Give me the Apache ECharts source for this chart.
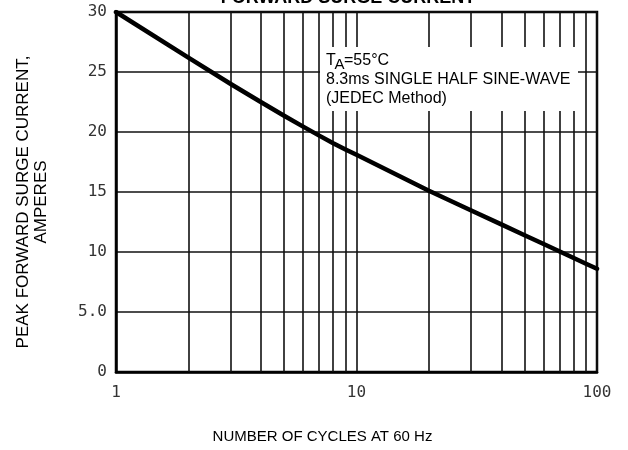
<!DOCTYPE html>
<html>
<head>
<meta charset="utf-8">
<script src="https://cdn.jsdelivr.net/npm/echarts@6/dist/echarts.min.js"></script>
<style>
html,body{margin:0;padding:0;background:#fff;}
#chart{width:628px;height:450px;}
</style>
</head>
<body>
<div id="chart"></div>
<script>
// Data
var cycles = [1, 2, 3, 4, 5, 6, 7, 8, 9, 10, 20, 30, 40, 50, 60, 70, 80, 90, 100];
var current = [30, 26.2, 24.0, 22.5, 21.35, 20.45, 19.7, 19.07, 18.55, 18.1, 15.1, 13.46, 12.3, 11.4, 10.66, 10.04, 9.5, 9.02, 8.6];
var minorGridX = [2, 3, 4, 5, 6, 7, 8, 9, 20, 30, 40, 50, 60, 70, 80, 90];
var yTicks = [0, 5, 10, 15, 20, 25, 30];
var yTickLabels = ['0', '5.0', '10', '15', '20', '25', '30'];
var titleText = 'FORWARD SURGE CURRENT';
var xName = 'NUMBER OF CYCLES AT 60 Hz';
var yNameLines = ['PEAK FORWARD SURGE CURRENT,', 'AMPERES'];
var noteLines = ['=55\u00B0C', '8.3ms SINGLE HALF SINE-WAVE', '(JEDEC Method)'];

var chart = echarts.init(document.getElementById('chart'), null, {renderer: 'canvas'});
var gridLine = {color: '#111', width: 1.6};
var tickFont = {fontFamily: 'DejaVu Sans Mono', fontSize: 16, color: '#333'};
var sans = '"Liberation Sans", Arial, sans-serif';

var option = {
  animation: false,
  backgroundColor: '#fff',
  grid: {left: 116, right: 31, top: 12, bottom: 78, show: true, borderColor: '#000', borderWidth: 2.5, backgroundColor: 'transparent'},
  xAxis: {
    type: 'log', logBase: 10, min: 1, max: 100,
    axisLine: {show: true, lineStyle: {color: '#000', width: 2.5}},
    axisTick: {show: false},
    splitLine: {show: true, lineStyle: gridLine},
    axisLabel: {show: true, margin: 13, fontFamily: tickFont.fontFamily, fontSize: tickFont.fontSize, color: tickFont.color,
      formatter: function (v) { return String(Math.round(v)); }},
    name: xName, nameLocation: 'middle', nameGap: 57,
    nameTextStyle: {fontFamily: 'Liberation Sans', fontSize: 15, color: '#000', padding: [0, 68, 0, 0]}
  },
  yAxis: {
    type: 'value', min: 0, max: 30, interval: 5,
    axisLine: {show: true, lineStyle: {color: '#000', width: 2.5}},
    axisTick: {show: false},
    splitLine: {show: true, lineStyle: gridLine},
    axisLabel: {show: true, margin: 9, fontFamily: tickFont.fontFamily, fontSize: tickFont.fontSize, color: tickFont.color,
      padding: [4, 0, 0, 0],
      formatter: function (v) { var i = yTicks.indexOf(v); return i >= 0 ? yTickLabels[i] : ''; }}
  },
  series: [{
    type: 'line',
    data: cycles.map(function (c, i) { return [c, current[i]]; }),
    showSymbol: false, smooth: false,
    lineStyle: {color: '#000', width: 4.5, cap: 'round', join: 'round'},
    z: 5,
    markLine: {
      silent: true, symbol: ['none', 'none'], label: {show: false},
      lineStyle: {color: '#111', width: 1.6, type: 'solid'},
      data: minorGridX.map(function (v) { return {xAxis: v}; }),
      z: 1
    }
  }],
  graphic: [
    {type: 'text', z: 200,
      style: {text: titleText, x: 348, y: -1.5, align: 'center', verticalAlign: 'middle', font: 'bold 18px ' + sans, fill: '#000'}},
    {type: 'group', z: 100, children: [
      {type: 'rect', shape: {x: 320, y: 47, width: 258, height: 64}, style: {fill: '#fff'}, z: 100},
      {type: 'text', z: 101, style: {text: 'T', x: 326, y: 60.5, verticalAlign: 'middle', font: '16px ' + sans, fill: '#000'}},
      {type: 'text', z: 101, style: {text: 'A', x: 334.5, y: 64.5, verticalAlign: 'middle', font: '15px ' + sans, fill: '#000'}},
      {type: 'text', z: 101, style: {text: noteLines[0], x: 344, y: 60.5, verticalAlign: 'middle', font: '16px ' + sans, fill: '#000'}},
      {type: 'text', z: 101, style: {text: noteLines[1], x: 326, y: 79.5, verticalAlign: 'middle', font: '16px ' + sans, fill: '#000'}},
      {type: 'text', z: 101, style: {text: noteLines[2], x: 326, y: 98.5, verticalAlign: 'middle', font: '16px ' + sans, fill: '#000'}}
    ]},
    {type: 'text', z: 100, x: 32, y: 202, rotation: Math.PI / 2,
      style: {text: yNameLines.join('\n'), x: 0, y: 0, align: 'center', verticalAlign: 'middle', lineHeight: 18, font: '17px ' + sans, fill: '#000'}}
  ]
};
chart.setOption(option);
</script>
</body>
</html>
